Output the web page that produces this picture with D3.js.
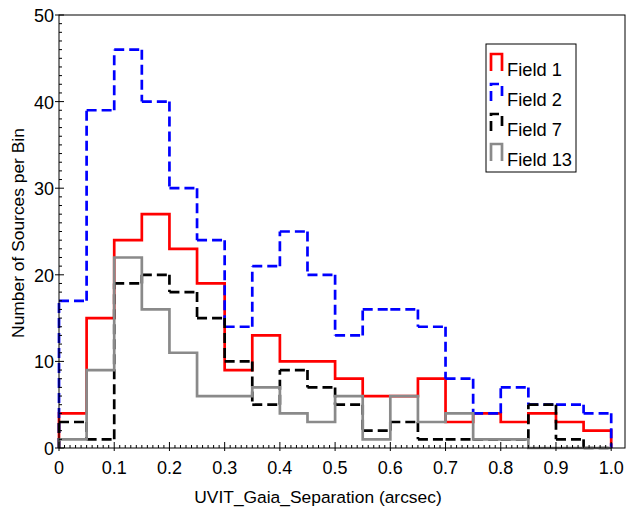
<!DOCTYPE html>
<html>
<head>
<meta charset="utf-8">
<script src="https://cdn.jsdelivr.net/npm/d3@7"></script>
<style>
  body { margin: 0; background: #fff; }
  text { font-family: "Liberation Sans", Arial, sans-serif; fill: #000; }
</style>
</head>
<body>
<script>
// left edge of each 0.05 arcsec bin
var binLeft = [0, 0.05, 0.1, 0.15, 0.2, 0.25, 0.3, 0.35, 0.4, 0.45,
               0.5, 0.55, 0.6, 0.65, 0.7, 0.75, 0.8, 0.85, 0.9, 0.95];
var binEnd = 1.0;

var field1  = [4, 15, 24, 27, 23, 19, 9, 13, 10, 10, 8, 6, 6, 8, 3, 4, 3, 4, 3, 2];
var field2  = [17, 39, 46, 40, 30, 24, 14, 21, 25, 20, 13, 16, 16, 14, 8, 4, 7, 5, 5, 4];
var field7  = [3, 1, 19, 20, 18, 15, 10, 5, 9, 7, 5, 2, 3, 1, 1, 1, 1, 5, 1, 0];
var field13 = [1, 9, 22, 16, 11, 6, 6, 7, 4, 3, 6, 1, 6, 3, 4, 1, 1, 0, 0, 0];

var seriesNames = ["Field 1", "Field 2", "Field 7", "Field 13"];
var xTickLabels = ["0", "0.1", "0.2", "0.3", "0.4", "0.5", "0.6", "0.7", "0.8", "0.9", "1.0"];
var yTickLabels = ["0", "10", "20", "30", "40", "50"];

function drawChart() {
    var w = 626, h = 513;
    var left = 59, right = 625, top = 15, bottom = 448;

    var svg = d3.select("body").append("svg")
                .attr("width", w)
                .attr("height", h);

    var x = d3.scaleLinear().domain([0, 1.025]).range([left, right]);
    var y = d3.scaleLinear().domain([0, 50]).range([bottom, top]);

    var styles = [
        {data: field1,  color: "#ff0000", dash: null},
        {data: field2,  color: "#0000ff", dash: "10,5"},
        {data: field7,  color: "#000000", dash: "10,5"},
        {data: field13, color: "#8a8a8a", dash: null}
    ];

    // step outlines, red first and gray on top
    // each segment drawn on its own so the dash restarts at every corner
    styles.forEach(function(s) {
        var pts = [[0, 0]];
        binLeft.forEach(function(b, i) {
            var prev = i === 0 ? 0 : s.data[i - 1];
            pts.push([b, prev]);
            pts.push([b, s.data[i]]);
        });
        pts.push([binEnd, s.data[s.data.length - 1]]);
        pts.push([binEnd, 0]);
        var segs = [];
        for (var k = 1; k < pts.length; k++) {
            if (pts[k][0] === pts[k - 1][0] && pts[k][1] === pts[k - 1][1]) continue;
            segs.push([pts[k - 1], pts[k]]);
        }
        var g = svg.append("g");
        if (s.dash) {
            g.selectAll("line").data(segs).enter().append("line")
             .attr("x1", function(d) { return x(d[0][0]); })
             .attr("y1", function(d) { return y(d[0][1]); })
             .attr("x2", function(d) { return x(d[1][0]); })
             .attr("y2", function(d) { return y(d[1][1]); })
             .attr("stroke", s.color)
             .attr("stroke-width", 2.7)
             .attr("stroke-dasharray", s.dash);
        } else {
            g.append("path")
             .attr("d", d3.line().x(function(d) { return x(d[0]); }).y(function(d) { return y(d[1]); })(pts))
             .attr("fill", "none")
             .attr("stroke", s.color)
             .attr("stroke-width", 2.7);
        }
    });

    // frame
    svg.append("rect")
       .attr("x", left).attr("y", top)
       .attr("width", right - left).attr("height", bottom - top)
       .attr("fill", "none")
       .attr("stroke", "#000")
       .attr("stroke-width", 1);

    // x ticks
    var xMinor = d3.range(0, 101).map(function(i) { return i / 100; });
    svg.append("g").selectAll("line").data(xMinor).enter().append("line")
       .attr("x1", function(d) { return x(d); }).attr("x2", function(d) { return x(d); })
       .attr("y1", bottom).attr("y2", function(d, i) { return i % 10 === 0 ? bottom - 6 : bottom - 3; })
       .attr("stroke", "#000").attr("stroke-width", 1);
    svg.append("g").selectAll("line").data(xTickLabels).enter().append("line")
       .attr("x1", function(d) { return x(+d); }).attr("x2", function(d) { return x(+d); })
       .attr("y1", bottom).attr("y2", bottom + 3)
       .attr("stroke", "#000").attr("stroke-width", 1);
    svg.append("g").selectAll("text").data(xTickLabels).enter().append("text")
       .attr("x", function(d) { return x(+d); })
       .attr("y", 474)
       .attr("text-anchor", "middle")
       .style("font-size", "18px")
       .text(function(d) { return d; });

    // y ticks
    var yMinor = d3.range(0, 51);
    svg.append("g").selectAll("line").data(yMinor).enter().append("line")
       .attr("y1", function(d) { return y(d); }).attr("y2", function(d) { return y(d); })
       .attr("x1", function(d) { return d % 10 === 0 ? left - 4 : left; })
       .attr("x2", function(d) { return d % 10 === 0 ? left + 5 : left + 3; })
       .attr("stroke", "#000").attr("stroke-width", 1);
    svg.append("g").selectAll("text").data(yTickLabels).enter().append("text")
       .attr("x", left - 5)
       .attr("y", function(d) { return y(+d) + 7; })
       .attr("text-anchor", "end")
       .style("font-size", "18px")
       .text(function(d) { return d; });

    // axis titles
    svg.append("text")
       .attr("x", 318).attr("y", 503)
       .attr("text-anchor", "middle")
       .style("font-size", "17.4px")
       .text("UVIT_Gaia_Separation (arcsec)");
    svg.append("text")
       .attr("transform", "translate(24,233) rotate(-90)")
       .attr("text-anchor", "middle")
       .style("font-size", "17.4px")
       .text("Number of Sources per Bin");

    // legend
    var lg = svg.append("g").attr("transform", "translate(486,44)");
    lg.append("rect")
      .attr("width", 90).attr("height", 128)
      .attr("fill", "#fff").attr("stroke", "#000").attr("stroke-width", 1);
    styles.forEach(function(s, i) {
        var by = 27 + i * 30;
        lg.append("path")
          .attr("d", "M5," + by + "V" + (by - 17) + "H16V" + by)
          .attr("fill", "none")
          .attr("stroke", s.color)
          .attr("stroke-width", 2.7)
          .attr("stroke-dasharray", s.dash);
        lg.append("text")
          .attr("x", 21).attr("y", by + 5)
          .style("font-size", "18.3px")
          .text(seriesNames[i]);
    });
}

drawChart();
</script>
</body>
</html>
